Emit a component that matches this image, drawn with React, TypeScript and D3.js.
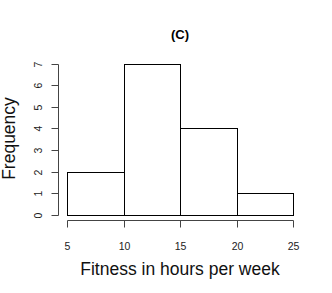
import React from "react";
import * as d3 from "d3";

// histogram bins (hours per week) and counts
const binEdges = [5, 10, 15, 20, 25];
const counts = [2, 7, 4, 1];
const xTicks = [5, 10, 15, 20, 25];
const yTicks = [0, 1, 2, 3, 4, 5, 6, 7];

const W = 332;
const H = 293;

export default function App() {
  const x = d3.scaleLinear().domain([5, 25]).range([67, 293.3]);
  const y = d3.scaleLinear().domain([0, 7]).range([214.7, 63.5]);
  const font = "'Liberation Sans', Arial, Helvetica, sans-serif";
  const axisX = 58.5;
  const axisY = 220.5;

  const bins = counts.map((c, i) => ({ x0: binEdges[i], x1: binEdges[i + 1], c }));

  return (
    <svg
      width={W}
      height={H}
      style={{ position: "absolute", left: 0, top: 0, background: "#fff" }}
      fontFamily={font}
    >
      <text x={180} y={39} textAnchor="middle" fontSize={13} fontWeight="bold">
        (C)
      </text>

      {/* bars */}
      {bins.map((b, i) => (
        <rect
          key={i}
          x={Math.round(x(b.x0)) + 0.5}
          y={Math.round(y(b.c)) + 0.5}
          width={Math.round(x(b.x1)) - Math.round(x(b.x0))}
          height={Math.round(y(0)) - Math.round(y(b.c))}
          fill="#fff"
          stroke="#000"
          strokeWidth={1}
        />
      ))}

      {/* y axis */}
      <line x1={axisX} x2={axisX} y1={Math.round(y(0)) + 0.5} y2={Math.round(y(7)) + 0.5} stroke="#444" />
      {yTicks.map((t) => {
        const ty = Math.round(y(t)) + 0.5;
        return (
          <g key={t}>
            <line x1={axisX - 7} x2={axisX} y1={ty} y2={ty} stroke="#444" />
            <text
              transform={`translate(${41.5},${ty}) rotate(-90)`}
              textAnchor="middle"
              fontSize={10.5}
              fill="#222"
            >
              {t}
            </text>
          </g>
        );
      })}

      {/* x axis */}
      <line x1={Math.round(x(5)) + 0.5} x2={Math.round(x(25)) + 0.5} y1={axisY} y2={axisY} stroke="#444" />
      {xTicks.map((t) => {
        const tx = Math.round(x(t)) + 0.5;
        return (
          <g key={t}>
            <line x1={tx} x2={tx} y1={axisY} y2={axisY + 7} stroke="#444" />
            <text x={tx} y={249.5} textAnchor="middle" fontSize={10.5} fill="#222">
              {t}
            </text>
          </g>
        );
      })}

      <text x={180} y={275} textAnchor="middle" fontSize={17.5} fill="#111">
        Fitness in hours per week
      </text>
      <text
        transform={`translate(${14.5},${138.5}) rotate(-90)`}
        textAnchor="middle"
        fontSize={17.5}
        fill="#111"
      >
        Frequency
      </text>
    </svg>
  );
}
